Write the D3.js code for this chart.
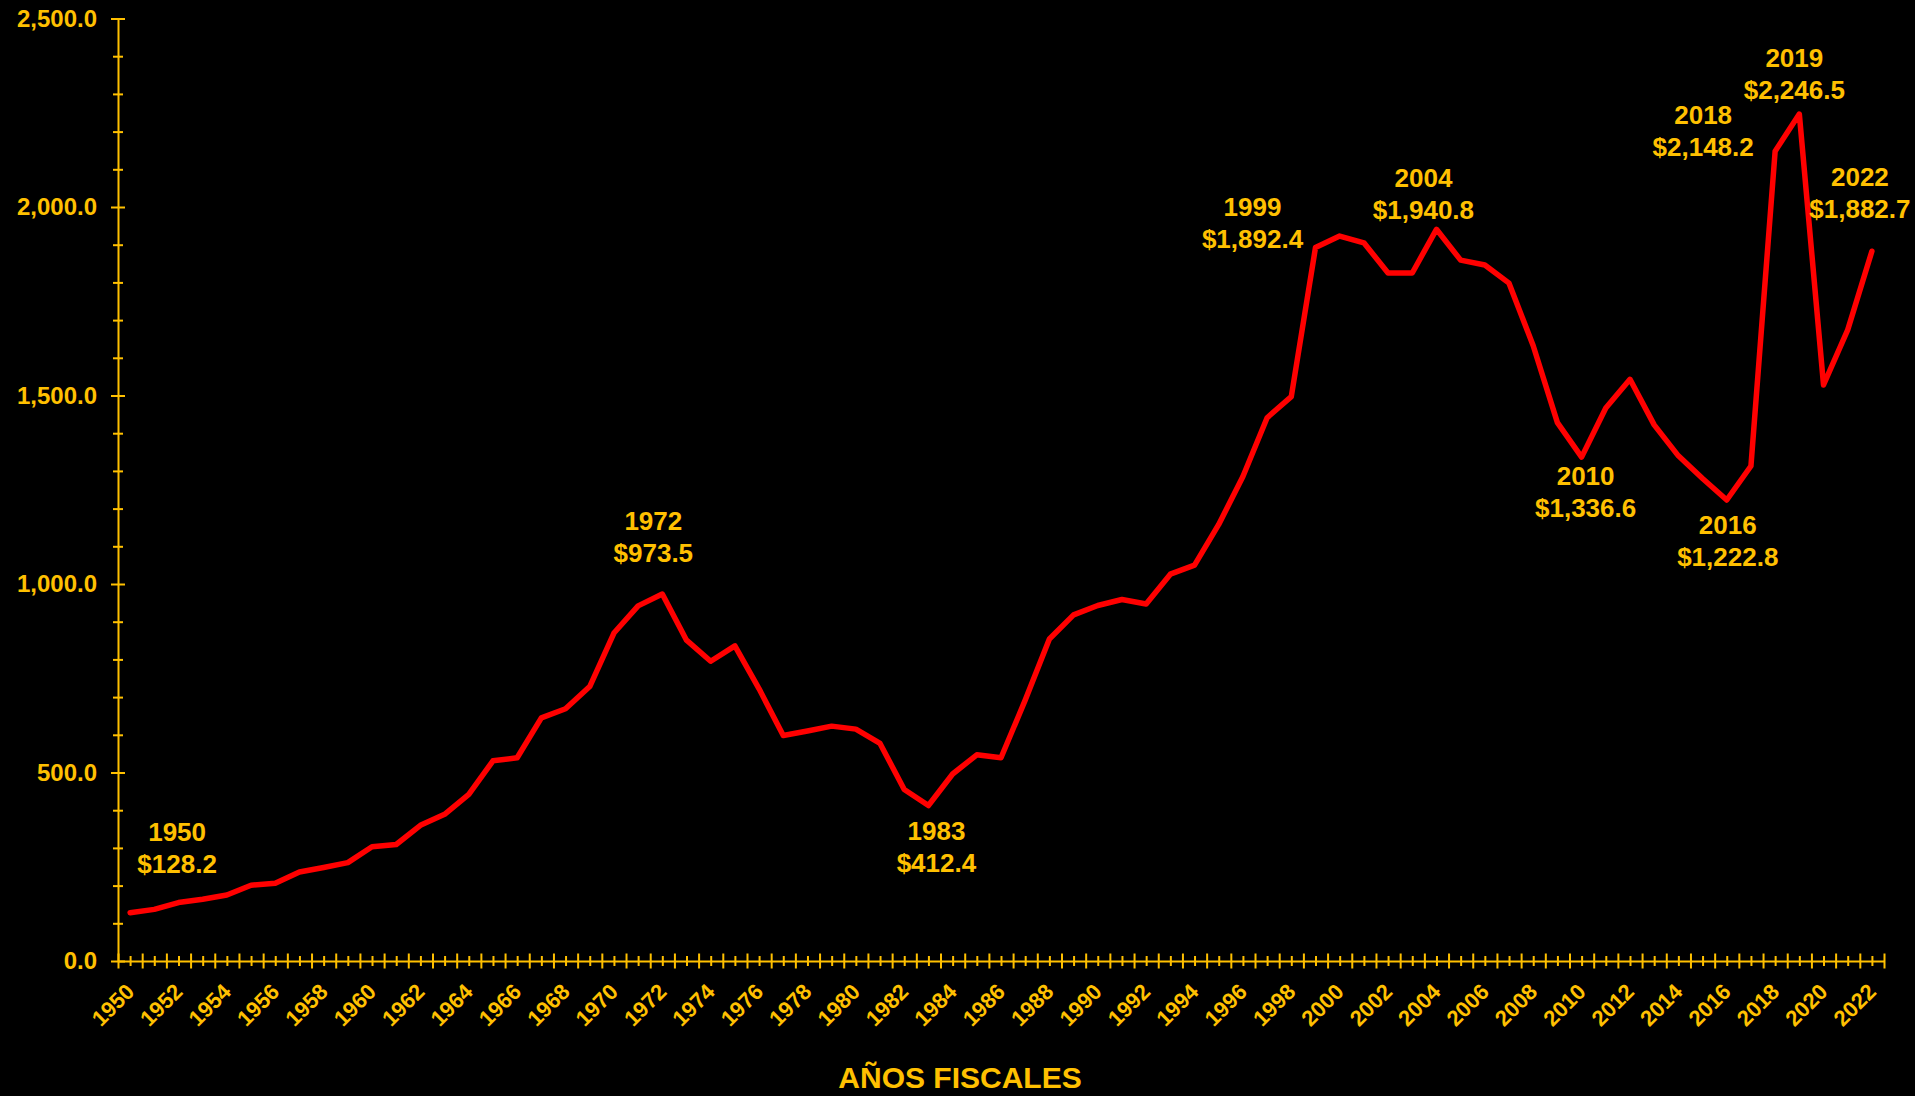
<!DOCTYPE html>
<html>
<head>
<meta charset="utf-8">
<script src="https://cdn.jsdelivr.net/npm/d3@7"></script>
<style>
  html, body { margin: 0; padding: 0; background: #000; }
  svg { display: block; }
  text { font-family: "Liberation Sans", Arial, sans-serif; font-weight: bold; }
</style>
</head>
<body>
<svg id="mainChart" width="1915" height="1096"></svg>
<script>
const GOLD = '#FFC000';
const RED = '#FF0000';

const years = [
  1950, 1951, 1952, 1953, 1954, 1955, 1956, 1957, 1958, 1959,
  1960, 1961, 1962, 1963, 1964, 1965, 1966, 1967, 1968, 1969,
  1970, 1971, 1972, 1973, 1974, 1975, 1976, 1977, 1978, 1979,
  1980, 1981, 1982, 1983, 1984, 1985, 1986, 1987, 1988, 1989,
  1990, 1991, 1992, 1993, 1994, 1995, 1996, 1997, 1998, 1999,
  2000, 2001, 2002, 2003, 2004, 2005, 2006, 2007, 2008, 2009,
  2010, 2011, 2012, 2013, 2014, 2015, 2016, 2017, 2018, 2019,
  2020, 2021, 2022
];

const values = [
  128.2, 137, 155, 164, 175, 201, 206, 236, 248, 261,
  303, 309, 360, 389, 442, 531, 539, 645, 669, 728,
  870, 942, 973.5, 851, 795, 836, 722, 598, 610, 623,
  615, 577, 455, 412.4, 496, 547, 539, 692, 854, 918,
  943, 959, 947, 1026, 1050, 1158, 1285, 1441, 1497, 1892.4,
  1923, 1905, 1825, 1825, 1940.8, 1859, 1846, 1798, 1632, 1428,
  1336.6, 1467, 1543, 1422, 1340, 1280, 1222.8, 1313, 2148.2, 2246.5,
  1528, 1674, 1882.7
];

const yTickValues = [0, 500, 1000, 1500, 2000, 2500];
const xLabelYears = years.filter(y => y % 2 === 0);
const highlightYears = [1950, 1972, 1983, 1999, 2004, 2010, 2016, 2018, 2019, 2022];
const axisTitle = 'AÑOS FISCALES';

// label placement relative to its point: centre x and first baseline
const labelOffset = {
  1950: [47, -72], 1972: [-9, -64], 1983: [8, 34], 1999: [-63, -32],
  2004: [-13, -42], 2010: [4, 28], 2016: [1, 34], 2018: [-72, -27],
  2019: [-5, -47], 2022: [-12, -65]
};

let fmtY = d3.format(',.1f'),
    fmtMoney = v => '$' + d3.format(',.1f')(v);

let svg = d3.select('#mainChart');

const plotLeft = 118, plotRight = 1884, plotTop = 18.5, plotBottom = 961;

let x = d3.scaleLinear()
  .domain([years[0] - 0.5, years[years.length - 1] + 0.5])
  .range([plotLeft, plotRight]);

let y = d3.scaleLinear()
  .domain([0, 2500])
  .range([plotBottom, plotTop]);

let data = years.map((yr, i) => ({ year: yr, value: values[i] }));

// y axis: minor ticks every 100, major every 500
let yMinor = svg.append('g')
  .attr('transform', `translate(${plotLeft},0)`)
  .call(d3.axisLeft(y)
    .tickValues(d3.range(0, 2501, 100).filter(v => v % 500 !== 0))
    .tickFormat('')
    .tickSizeOuter(0));
yMinor.select('.domain').remove();
yMinor.selectAll('.tick line').attr('x1', 5).attr('x2', -5);

let yAxis = svg.append('g')
  .attr('transform', `translate(${plotLeft},0)`)
  .call(d3.axisLeft(y)
    .tickValues(yTickValues)
    .tickFormat(fmtY)
    .tickSizeOuter(0));
yAxis.selectAll('.tick line').attr('x1', 7).attr('x2', -7);
yAxis.selectAll('.tick text')
  .attr('x', -21)
  .style('font-size', '24px');

// x axis: long ticks between years, short ticks on each year
let xMinor = svg.append('g')
  .attr('transform', `translate(0,${plotBottom})`)
  .call(d3.axisBottom(x)
    .tickValues(years)
    .tickFormat('')
    .tickSizeOuter(0));
xMinor.select('.domain').remove();
xMinor.selectAll('.tick line').attr('y1', -5).attr('y2', 5);

let xAxis = svg.append('g')
  .attr('transform', `translate(0,${plotBottom})`)
  .call(d3.axisBottom(x)
    .tickValues(years.map(yr => yr - 0.5).concat([years[years.length - 1] + 0.5]))
    .tickFormat('')
    .tickSizeOuter(0));
xAxis.selectAll('.tick line').attr('y1', -7.5).attr('y2', 7.5);

let xLabels = svg.append('g')
  .attr('transform', `translate(0,${plotBottom})`)
  .call(d3.axisBottom(x)
    .tickValues(xLabelYears)
    .tickFormat(d3.format('d'))
    .tickSize(0));
xLabels.select('.domain').remove();
xLabels.selectAll('.tick text')
  .attr('x', 0)
  .attr('y', 0)
  .attr('dy', 0)
  .attr('text-anchor', 'end')
  .attr('transform', 'translate(5,32) rotate(-45)')
  .style('font-size', '22px');

svg.selectAll('.domain, .tick line')
  .attr('stroke', GOLD)
  .attr('stroke-width', 2);
svg.selectAll('.tick text')
  .attr('fill', GOLD);

// the series
let line = d3.line()
  .x(d => x(d.year))
  .y(d => y(d.value));

svg.append('path')
  .datum(data)
  .attr('d', line)
  .attr('fill', 'none')
  .attr('stroke', RED)
  .attr('stroke-width', 5.5)
  .attr('stroke-linejoin', 'round')
  .attr('stroke-linecap', 'round');

// labels on the notable years
let notes = svg.append('g')
  .selectAll('text.note')
  .data(data.filter(d => highlightYears.includes(d.year)))
  .enter()
  .append('text')
  .attr('class', 'note')
  .attr('text-anchor', 'middle')
  .attr('fill', GOLD)
  .style('font-size', '26px')
  .attr('transform', d => {
    let off = labelOffset[d.year];
    return `translate(${x(d.year) + off[0]},${y(d.value) + off[1]})`;
  });

notes.append('tspan')
  .attr('x', 0)
  .attr('y', 0)
  .text(d => d.year);

notes.append('tspan')
  .attr('x', 0)
  .attr('y', 32)
  .text(d => fmtMoney(d.value));

svg.append('text')
  .attr('x', 960)
  .attr('y', 1088)
  .attr('text-anchor', 'middle')
  .attr('fill', GOLD)
  .style('font-size', '30px')
  .text(axisTitle);
</script>
</body>
</html>
